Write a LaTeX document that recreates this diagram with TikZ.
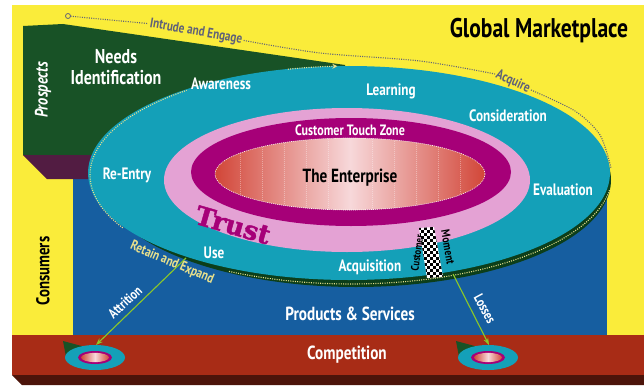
\documentclass[tikz,border=0pt]{standalone}
\usepackage{fontspec}
\setmainfont{PT Sans}
\newfontfamily\labelfont[FakeStretch=0.8]{PT Sans}
\newfontfamily\trustfont[FakeBold=1.6]{DejaVu Serif}
\usetikzlibrary{arrows.meta}
\definecolor{cYellow}{RGB}{250,236,58}
\definecolor{cProspect}{RGB}{24,82,38}
\definecolor{cPlum}{RGB}{82,28,66}
\definecolor{cBlue}{RGB}{22,94,160}
\definecolor{cTeal}{RGB}{20,160,184}
\definecolor{cRim}{RGB}{12,62,26}
\definecolor{cPink}{RGB}{228,162,212}
\definecolor{cMagenta}{RGB}{166,0,120}
\definecolor{cCore}{RGB}{210,70,56}
\definecolor{cCoreLight}{RGB}{247,216,218}
\definecolor{cBrick}{RGB}{168,44,22}
\definecolor{cBrickDark}{RGB}{76,20,10}
\definecolor{cLime}{RGB}{140,200,40}
\definecolor{cPath}{RGB}{96,98,120}
\definecolor{cRetain}{RGB}{232,224,140}
\tikzset{
	stage/.style    ={font=\labelfont\bfseries\fontsize{16.5}{18}\selectfont, text=white, inner sep=0pt},
	zone/.style     ={font=\labelfont\bfseries\fontsize{19}{21}\selectfont, text=white, inner sep=0pt, align=center},
	guidetext/.style={font=\labelfont\bfseries\fontsize{14}{15}\selectfont, text=cPath, inner sep=1.5pt},
	guide/.style    ={cPath, line width=1.1pt, dash pattern=on 1pt off 1.3pt},
	trail/.style    ={cRetain, line width=1.1pt, dash pattern=on 1pt off 1.3pt},
	leak/.style     ={cLime, line width=1.1pt, -{Stealth[length=7pt, width=5pt]}},
}

\begin{document}
\begin{tikzpicture}[x=1pt, y=-1pt]
	\useasboundingbox (0,0) rectangle (644,385);
	\fill[white] (0,0) rectangle (644,385);
	% marketplace backdrop
	\fill[cYellow] (12,5) rectangle (644,335);
	\fill[cBlue] (73,179) rectangle (607,335);
	% prospects wedge
	\fill[cProspect] (23,26) -- (63,24) -- (345,65) -- (345,155) -- (23,155) -- cycle;
	\fill[cPlum] (23,155) -- (120,155) -- (120,179) -- (47,179) -- cycle;
	% lifecycle ring with its rim
	\fill[cRim] (356,180) ellipse [x radius=255, y radius=107];
	\fill[cTeal] (349,173) ellipse [x radius=261, y radius=107];
	\fill[cPink] (347,180) ellipse [x radius=183, y radius=72];
	\fill[cMagenta] (351,172) ellipse [x radius=160, y radius=54];
	\shade[left color=cCore, right color=cCore, middle color=cCoreLight] (350,174) ellipse [x radius=135, y radius=36];
	\begin{scope}
		\clip (350,174) ellipse [x radius=135, y radius=36];
		\foreach \sx in {240,262,284,306,328,372,394,416,438,460}
			\draw[white, opacity=0.35, line width=0.6pt, dash pattern=on 1pt off 1pt] (\sx,135) -- (\sx,213);
	\end{scope}
	\draw[white, line width=0.6pt, dash pattern=on 1pt off 1pt] (350,174) ellipse [x radius=135, y radius=36];
	% moment of truth strip
	\begin{scope}
		\clip (419,228) -- (434,227) -- (443,277) -- (427,278) -- cycle;
		\fill[white] (415,224) rectangle (447,281);
		\foreach \i in {0,...,10}
			\foreach \j in {0,...,19} {
				\ifodd\numexpr\i+\j\relax\else
					\fill[black] (415+3*\i,224+3*\j) rectangle +(3,3);
				\fi
			}
	\end{scope}
	% trail round the ring
	\draw[trail] plot[domain=8:118, samples=60] ({351+261*cos(\x)}, {175+109*sin(\x)});
	\draw[trail] plot[domain=151:231, samples=40] ({351+261*cos(\x)}, {175+109*sin(\x)});
	\draw[trail, -{Stealth[length=5pt, width=5pt]}] plot[domain=256:267, samples=10] ({351+261*cos(\x)}, {175+109*sin(\x)});
	% competition band
	\fill[cBrick] (12,335) rectangle (644,375);
	\fill[cBrickDark] (12,375) -- (644,375) -- (644,385) -- (22,385) -- cycle;
	\foreach \rx/\nm in {95/rivalA, 488/rivalB} {
		\fill[cProspect] (\rx-32,341) -- (\rx-6,348) -- (\rx-29,357) -- cycle;
		\fill[cTeal] (\rx,357.5) ellipse [x radius=30, y radius=12.5];
		\fill[cMagenta] (\rx,357.5) ellipse [x radius=17, y radius=6.5];
		\shade[left color=cCore, right color=cCore, middle color=cCoreLight] (\rx,357.5) ellipse [x radius=14, y radius=4.6];
		\coordinate (\nm) at (\rx+1,345);
	}
	% labels
	\node[font=\labelfont\bfseries\fontsize{27}{29}\selectfont, inner sep=0pt] (title) at (539,31) {Global Marketplace};
	\node[zone, font=\labelfont\bfseries\fontsize{20}{21}\selectfont] (needs) at (116,67) {Needs\\Identification};
	\node[stage, font=\labelfont\bfseries\itshape\fontsize{18}{20}\selectfont, rotate=90] (prospects) at (43,90) {Prospects};
	\node[stage, font=\labelfont\bfseries\fontsize{18.5}{20}\selectfont, text=black, rotate=90] (consumers) at (43,271) {Consumers};
	\node[stage] (awareness) at (221,84) {Awareness};
	\node[stage] (learning) at (391,91) {Learning};
	\node[stage] (consideration) at (508,116) {Consideration};
	\node[stage] (evaluation) at (563,190) {Evaluation};
	\node[stage] (reentry) at (127,175) {Re-Entry};
	\node[stage] (use) at (214,253) {Use};
	\node[stage] (acquisition) at (370,267) {Acquisition};
	\node[stage, font=\labelfont\bfseries\fontsize{15}{16}\selectfont] (touchzone) at (350,130) {Customer Touch Zone};
	\node[stage, font=\labelfont\bfseries\fontsize{19}{20}\selectfont, text=black] (enterprise) at (350,178) {The Enterprise};
	\node[font=\trustfont\bfseries\fontsize{26}{28}\selectfont, text=cMagenta, rotate=-16, inner sep=0pt] (trust) at (233,225) {Trust};
	\node[stage, font=\labelfont\bfseries\fontsize{11}{12}\selectfont, text=black, rotate=82] (customer) at (417,253) {Customer};
	\node[stage, font=\labelfont\bfseries\fontsize{12}{13}\selectfont, text=black, rotate=-80] (moment) at (448,247) {Moment};
	\node[zone] (products) at (350,314) {Products \& Services};
	\node[zone] (competition) at (347,355) {Competition};
	% intrude, engage and acquire
	\node[guidetext, rotate=-10] (intrude) at (196,32) {Intrude and Engage};
	\node[guidetext, rotate=-24] (acquire) at (513,82) {Acquire};
	\coordinate (engage) at (68,16);
	\draw[cPath, line width=0.8pt] (engage) circle [radius=2.5];
	\draw[guide] (70.5,16.2) -- (intrude.west);
	\draw[guide] plot[smooth] coordinates {(intrude.east) (320,53) (420,61) (acquire.west)};
	\draw[guide] plot[smooth] coordinates {(acquire.east) (575,111) (600,135) (611,168)};
	\node[guidetext, text=cRetain, rotate=-23] (retain) at (172,263) {Retain and Expand};
	% leaks to competitors
	\coordinate (useedge) at (186,258);
	\coordinate (lossedge) at (453,274);
	\draw[leak] (useedge) -- (rivalA);
	\draw[leak] (lossedge) -- (rivalB);
	\node[stage, font=\labelfont\bfseries\fontsize{14}{15}\selectfont, rotate=43] (attrition) at (125,302) {Attrition};
	\node[stage, font=\labelfont\bfseries\fontsize{14}{15}\selectfont, rotate=-62] (losses) at (485,309) {Losses};
\end{tikzpicture}
\end{document}
